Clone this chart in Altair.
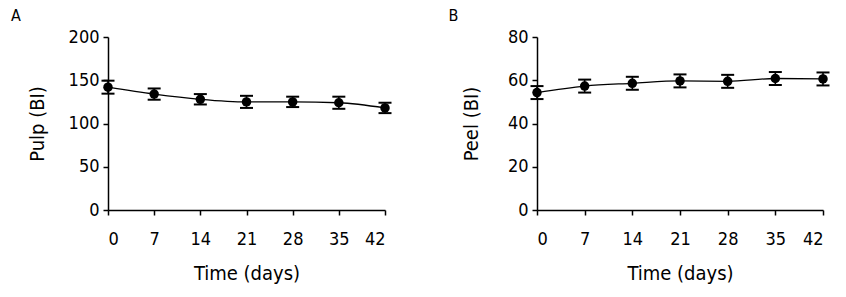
import altair as alt
import pandas as pd

days = [0, 7, 14, 21, 28, 35, 42]
pulp = [142, 134, 128, 125, 125, 124, 118]
pulp_err = [7.5, 6.5, 6, 7, 6, 7, 6]
peel = [54.3, 57.3, 58.6, 59.7, 59.5, 60.8, 60.6]
peel_err = [3, 3, 3, 3, 3, 3, 3]

FONT = "DejaVu Sans Condensed, Liberation Sans, sans-serif"


def panel(values, errs, ymax, ystep, ytitle, label, width, title_pad, label_dx):
    df = pd.DataFrame({
        "day": days,
        "v": values,
        "lo": [v - e for v, e in zip(values, errs)],
        "hi": [v + e for v, e in zip(values, errs)],
    })
    xenc = alt.X("day:Q", scale=alt.Scale(domain=[0, 42], nice=False, zero=False),
                 axis=alt.Axis(values=days, title="Time (days)", titlePadding=15,
                               labelPadding=15))
    yaxis = alt.Axis(values=list(range(0, ymax + 1, ystep)), title=ytitle,
                     titlePadding=title_pad)
    yscale = alt.Scale(domain=[0, ymax], nice=False)
    base = alt.Chart(df)
    line = base.mark_line(color="black", interpolate="monotone", strokeWidth=1.3).encode(
        x=xenc, y=alt.Y("v:Q", scale=yscale, axis=yaxis))
    rules = base.mark_rule(color="black", strokeWidth=1.6, opacity=1).encode(
        x="day:Q", y=alt.Y("lo:Q", scale=yscale), y2="hi:Q")
    cap_lo = base.mark_tick(color="black", orient="horizontal", size=13, thickness=2,
                            opacity=1).encode(x="day:Q", y=alt.Y("lo:Q", scale=yscale))
    cap_hi = base.mark_tick(color="black", orient="horizontal", size=13, thickness=2,
                            opacity=1).encode(x="day:Q", y=alt.Y("hi:Q", scale=yscale))
    pts = base.mark_circle(color="black", size=90, opacity=1).encode(
        x="day:Q", y=alt.Y("v:Q", scale=yscale))
    return alt.layer(line, rules, cap_lo, cap_hi, pts).properties(
        width=width, height=173,
        title=alt.TitleParams(label, anchor="start", frame="bounds", fontSize=16,
                              font=FONT, fontWeight="normal", offset=4, dx=label_dx),
    )


left = panel(pulp, pulp_err, 200, 50, "Pulp (BI)", "A", 277, 21, -16)
right = panel(peel, peel_err, 80, 20, "Peel (BI)", "B", 286, 26, -13)

chart = alt.hconcat(left, right, spacing=56).properties(
    padding={"left": 11, "top": 8, "right": 10, "bottom": 5}
).configure_view(stroke=None).configure_axis(
    grid=False,
    domainColor="black", domainWidth=1.5,
    tickColor="black", tickWidth=1.5, tickSize=5,
    labelFont=FONT, labelFontSize=18, labelColor="black", labelPadding=3,
    titleFont=FONT, titleFontSize=20, titleFontWeight="normal", titleColor="black",
).configure_axisY(labelPadding=4)

chart.save("out.html", embed_options={"renderer": "svg", "actions": False})
